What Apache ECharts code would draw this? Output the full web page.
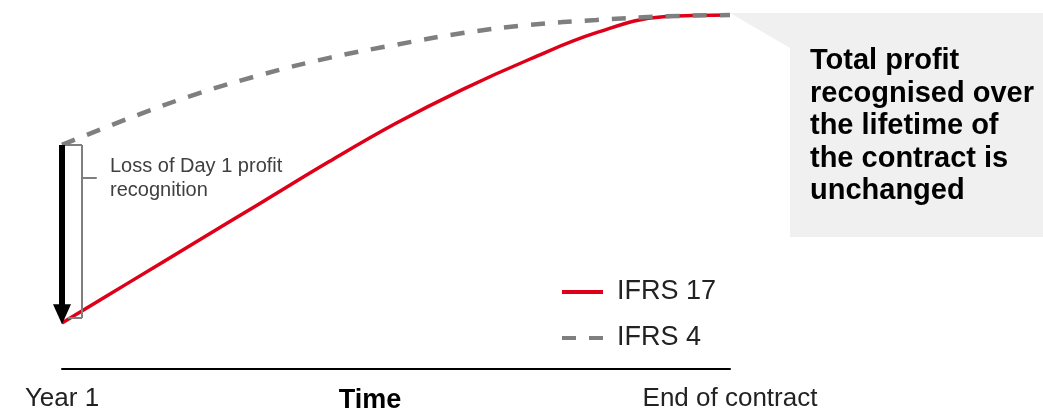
<!DOCTYPE html>
<html>
<head>
<meta charset="utf-8">
<script src="https://cdn.jsdelivr.net/npm/echarts@6/dist/echarts.min.js"></script>
<style>
html,body{margin:0;padding:0;background:#fff;}
#chart{width:1043px;height:414px;}
</style>
</head>
<body>
<div id="chart"></div>
<script>
// ---- data ----
const seriesNames = ['IFRS 17', 'IFRS 4'];
const xTickLabels = ['Year 1', 'End of contract'];
const axisTitle = 'Time';
// time position (0 = Year 1, 100 = End of contract)
const timePoints = [0, 10, 20, 30, 40, 50, 60, 70, 80, 90, 100];
const ifrs17Profit = [13, 24.4, 35.8, 47.2, 58.6, 69.4, 79.0, 87.5, 95.0, 99.5, 100];
const ifrs4Profit = [63.3, 70.8, 77.6, 83.2, 87.9, 91.6, 94.9, 97.2, 98.6, 99.6, 100];
const annotationText = 'Loss of Day 1 profit\nrecognition';
const calloutText = 'Total profit\nrecognised over\nthe lifetime of\nthe contract is\nunchanged';

const FONT = '"Liberation Sans", Arial, sans-serif';
const RED = '#DE0018';
const GREY = '#7f7f7f';

const pairs = (xs, ys) => xs.map((x, i) => [x, ys[i]]);
const start17 = [timePoints[0], ifrs17Profit[0]];
const start4 = [timePoints[0], ifrs4Profit[0]];

const chart = echarts.init(document.getElementById('chart'));
const option = {
  animation: false,
  backgroundColor: '#fff',
  grid: { left: 62, right: 313, top: 15, bottom: 45, containLabel: false, outerBoundsMode: 'none' },
  xAxis: {
    type: 'value', min: 0, max: 100, interval: 100,
    axisLine: { show: true, lineStyle: { color: '#000', width: 2 } },
    axisTick: { show: false },
    splitLine: { show: false },
    axisLabel: {
      show: true, margin: 17, fontSize: 26, color: '#222', fontFamily: FONT,
      showMinLabel: true, showMaxLabel: true, hideOverlap: false,
      formatter: v => (v === 0 ? xTickLabels[0] : xTickLabels[1])
    },
    name: axisTitle, nameLocation: 'middle', nameGap: 18, nameMoveOverlap: false,
    nameTextStyle: { fontSize: 27, fontWeight: 'bold', color: '#000', fontFamily: FONT, verticalAlign: 'top', padding: [0, 52, 0, 0] }
  },
  yAxis: { type: 'value', min: 0, max: 100, show: false },
  legend: {
    orient: 'vertical', left: 562, top: 277, padding: 0,
    itemWidth: 41, itemHeight: 4, itemGap: 16,
    textStyle: { fontSize: 27, color: '#222', fontFamily: FONT, lineHeight: 28, padding: [2, 0, 0, 9] },
    data: [
      { name: seriesNames[0], icon: 'path://M0,0H41V4H0Z' },
      { name: seriesNames[1], icon: 'path://M0,0H14V4H0ZM27,0H41V4H27Z' }
    ]
  },
  series: [
    {
      name: seriesNames[0], type: 'line', smooth: 0.4, symbol: 'none', clip: false, z: 3,
      data: pairs(timePoints, ifrs17Profit),
      lineStyle: { color: RED, width: 3.5 }, itemStyle: { color: RED },
      markLine: {
        silent: true, symbol: ['none', 'none'], label: { show: false }, animation: false,
        data: [
          // bracket
          [{ coord: [0, start4[1]], lineStyle: { color: GREY, width: 2, type: 'solid' } }, { coord: [3, start4[1]] }],
          [{ coord: [3, start4[1]], lineStyle: { color: GREY, width: 2, type: 'solid' } }, { coord: [3, start17[1] + 1.4] }],
          [{ coord: [3, start17[1] + 1.4], lineStyle: { color: GREY, width: 2, type: 'solid' } }, { coord: [0.9, start17[1] + 1.4] }],
          [{ coord: [3, 54], lineStyle: { color: GREY, width: 2, type: 'solid' } }, { coord: [5.2, 54] }]
        ]
      }
    },
    {
      name: seriesNames[1], type: 'line', smooth: 0.4, symbol: 'none', clip: false, z: 4,
      data: pairs(timePoints, ifrs4Profit),
      lineStyle: { color: GREY, width: 4.5, type: [14, 13], cap: 'butt' }, itemStyle: { color: GREY },
      markLine: {
        silent: true, symbol: ['none', 'triangle'], symbolSize: [18, 20], label: { show: false }, animation: false,
        data: [
          [{ coord: start4, lineStyle: { color: '#000', width: 6, type: 'solid' }, itemStyle: { color: '#000' } },
           { coord: [start17[0], start17[1] + 2.5] }]
        ]
      }
    }
  ],
  graphic: [
    {
      type: 'polygon', z: 0, silent: true,
      shape: { points: [[730, 13], [1043, 13], [1043, 237], [790, 237], [790, 48]] },
      style: { fill: '#f0f0f0' }
    },
    {
      type: 'text', z: 5, left: 810, top: 45, silent: true,
      style: { text: calloutText, font: 'bold 29px ' + FONT, fill: '#000', lineHeight: 32.5 }
    },
    {
      type: 'text', z: 5, left: 110, top: 154, silent: true,
      style: { text: annotationText, font: '20px ' + FONT, fill: '#404040', lineHeight: 24 }
    }
  ]
};
chart.setOption(option);
</script>
</body>
</html>
